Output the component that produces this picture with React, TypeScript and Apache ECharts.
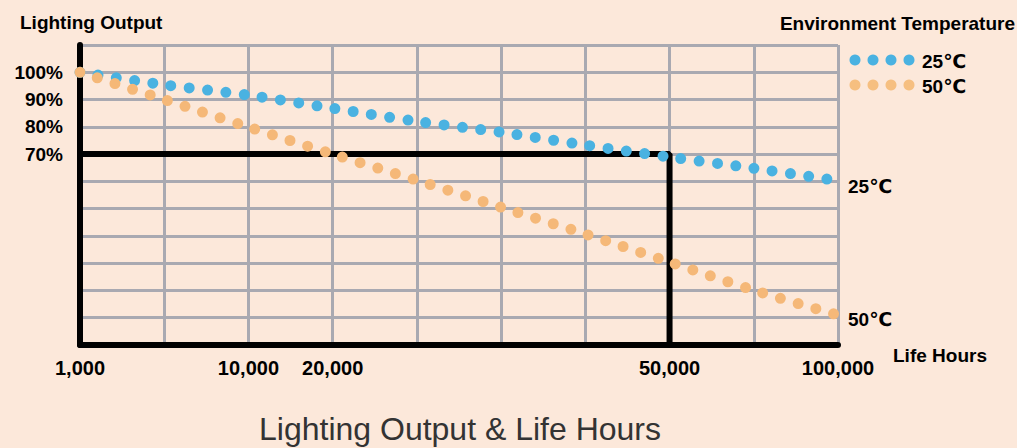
import React, { useEffect, useRef } from "react";
import * as echarts from "echarts";

const xTickLabels = ["1,000", "", "10,000", "20,000", "", "", "", "50,000", "", "100,000"];
const yTickValues = [70, 80, 90, 100];

const hours25 = [0, 1, 2, 3, 4, 5, 6, 7, 8, 8.88];
const output25 = [100, 95.4, 91.6, 86.8, 82, 78, 73.3, 68.9, 64.8, 60.8];

const hours50 = [0, 1, 2, 3, 4, 5, 6, 7, 8, 8.95];
const output50 = [100, 90, 79.9, 70, 60.4, 50.5, 40.7, 30.4, 20.1, 11.4];

const ref70Hours = [0, 7, 7];
const ref70Output = [70, 70, 0];

const BLUE = "#4ab2e1";
const ORANGE = "#f5b878";
const GRID = "#a9a9b1";
const BG = "#fce8da";
const FONT = "'Liberation Sans', Arial, 'DejaVu Sans', sans-serif";

export default function App() {
  const ref = useRef<HTMLDivElement>(null);
  useEffect(() => {
    if (!ref.current) return;
    const chart = echarts.init(ref.current, undefined, { renderer: "svg" });
    const zip = (a: number[], b: number[]) => a.map((v, i) => [v, b[i]]);
    const legendDots = (y: number, color: string) =>
      [855, 873, 891, 909].map((x) => ({
        type: "circle",
        shape: { cx: x, cy: y, r: 5.5 },
        style: { fill: color },
      }));
    const txt = (text: string, x: number, y: number, align: string, font: string, fill = "#000") => ({
      type: "text",
      x,
      y,
      style: { text, font, fill, textAlign: align, textVerticalAlign: "middle" },
    });
    chart.setOption({
      animation: false,
      backgroundColor: BG,
      grid: { left: 80, right: 179, top: 45, bottom: 103 },
      xAxis: {
        type: "value",
        min: 0,
        max: 9,
        interval: 1,
        axisLine: { show: true, onZero: false, lineStyle: { color: "#000", width: 6 } },
        axisTick: { show: false },
        splitLine: { show: true, lineStyle: { color: GRID, width: 3 } },
        axisLabel: {
          margin: 13,
          color: "#000",
          fontFamily: FONT,
          fontWeight: "bold",
          fontSize: 20,
          formatter: (v: number) => xTickLabels[Math.round(v)] ?? "",
        },
      },
      yAxis: {
        type: "value",
        min: 0,
        max: 110,
        interval: 10,
        axisLine: { show: true, lineStyle: { color: "#000", width: 6 } },
        axisTick: { show: false },
        splitLine: { show: true, lineStyle: { color: GRID, width: 3 } },
        axisLabel: {
          margin: 17,
          color: "#000",
          fontFamily: FONT,
          fontWeight: "bold",
          fontSize: 19,
          formatter: (v: number) => (yTickValues.includes(v) ? `${v}%` : ""),
        },
      },
      series: [
        {
          type: "line",
          data: zip(ref70Hours, ref70Output),
          symbol: "none",
          clip: false,
          lineStyle: { color: "#000", width: 6 },
        },
        {
          name: "25℃",
          type: "line",
          data: zip(hours25, output25),
          symbol: "none",
          clip: false,
          smooth: 0.3,
          lineStyle: { color: BLUE, width: 11, type: [0, 18.4], cap: "round" },
        },
        {
          name: "50℃",
          type: "line",
          data: zip(hours50, output50),
          symbol: "none",
          clip: false,
          smooth: 0.3,
          lineStyle: { color: ORANGE, width: 11, type: [0, 18.4], cap: "round" },
        },
      ],
      graphic: [
        txt("Lighting Output", 20, 22, "left", `bold 19px ${FONT}`),
        txt("Environment Temperature", 1015, 23, "right", `bold 19px ${FONT}`),
        ...legendDots(60, BLUE),
        ...legendDots(85, "#f6bf80"),
        txt("25℃", 922, 61, "left", `bold 19px ${FONT}`),
        txt("50℃", 922, 86, "left", `bold 19px ${FONT}`),
        txt("25℃", 848, 186, "left", `bold 19px ${FONT}`),
        txt("50℃", 848, 319, "left", `bold 19px ${FONT}`),
        txt("Life Hours", 893, 355, "left", `bold 19px ${FONT}`),
        txt("Lighting Output & Life Hours", 460, 429, "center", `32px ${FONT}`, "#333"),
      ],
    });
    return () => chart.dispose();
  }, []);
  return (
    <div
      ref={ref}
      style={{ position: "fixed", left: 0, top: 0, width: 1017, height: 448, background: BG }}
    />
  );
}
